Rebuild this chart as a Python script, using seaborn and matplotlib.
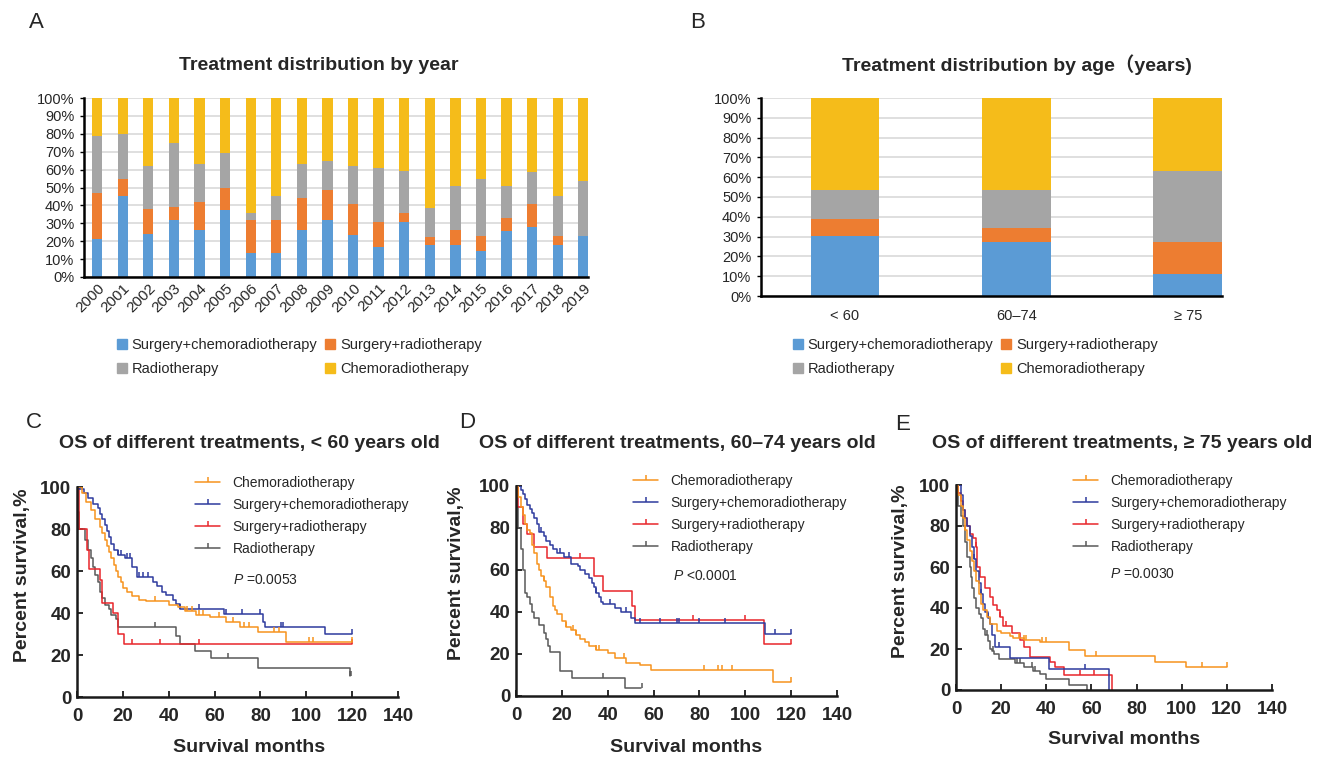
import numpy as np
import matplotlib
matplotlib.use("Agg")
import matplotlib.pyplot as plt
import seaborn as sns
from matplotlib.lines import Line2D

# ---------------- data: panel A (percent segments by year) ----------------
years = ["2000", "2001", "2002", "2003", "2004", "2005", "2006", "2007", "2008", "2009",
         "2010", "2011", "2012", "2013", "2014", "2015", "2016", "2017", "2018", "2019"]
a_scr = [21, 45, 24, 32, 26, 37.4, 13.5, 13.5, 26, 32, 23.4, 16.5, 30.7, 18, 18, 14.6, 25.6, 28, 18, 23]
a_sr = [26, 10, 14, 7, 16, 12.6, 18.5, 18.5, 18, 16.4, 17.6, 14, 5, 4.4, 8, 8.4, 7.4, 12.7, 5, 0]
a_rt = [32, 25, 24, 36, 21, 19, 4, 13.5, 19, 16.6, 21, 30.5, 23.3, 15.9, 25, 32, 18, 18, 22, 30.5]
a_crt = [21, 20, 38, 25, 37, 31, 64, 54.5, 37, 35, 38, 39, 41, 61.7, 49, 45, 49, 41.3, 55, 46.5]

# ---------------- data: panel B (percent segments by age) ----------------
ages = ["< 60", "60\u201374", "\u2265 75"]
b_scr = [30.1, 27.1, 11.3]
b_sr = [8.8, 7.1, 16.1]
b_rt = [14.5, 19.3, 35.6]
b_crt = [46.6, 46.5, 37.0]

treat_labels = ["Surgery+chemoradiotherapy", "Surgery+radiotherapy", "Radiotherapy", "Chemoradiotherapy"]

# ---------------- data: Kaplan-Meier curves (step times, survival %) ----------------
# Panel C (< 60)
c_crt_t = [0, 2, 4, 6, 8, 10, 11, 12, 13, 14, 15, 16, 17, 18, 19, 20, 22, 24, 27, 30, 40, 44, 47, 52, 58, 65, 71, 79, 91, 120]
c_crt_s = [100, 97, 93, 89, 85, 81, 78, 75, 72, 69, 66, 63, 60, 57, 55, 52, 50, 48, 46, 45.5, 43.6, 42.8, 41, 39, 38, 35.7, 33.3, 31, 26, 26]
c_crt_cens = [34, 48, 50, 53, 55, 62, 68, 73, 75, 86, 88, 101, 103, 120]
c_scr_t = [0, 1, 3, 5, 7, 9, 10, 11, 12, 13, 14, 15, 16, 18, 21, 24, 26, 33, 35, 37, 39, 42, 43, 45, 64, 81, 82, 108, 120]
c_scr_s = [100, 99, 97, 95, 92, 90, 87, 85, 82, 79, 76, 73, 70, 67.5, 66, 62, 57, 55, 53, 50, 48.4, 46, 44.4, 42, 39.4, 35.7, 33.3, 30.2, 30.2]
c_scr_cens = [18, 19, 22, 23, 27, 29, 31, 45, 53, 65, 72, 80, 89, 90, 120]
c_sr_t = [0, 1, 4.4, 5.3, 9.9, 10.8, 15.7, 18, 20.5, 120]
c_sr_s = [100, 80, 70, 60.8, 55.5, 45, 40, 30, 25.4, 25.4]
c_sr_cens = [24, 36, 53, 120]
c_rt_t = [0, 0.5, 1, 3.3, 5, 6, 7, 8, 9, 10, 11, 12, 14, 15, 17, 18, 43.3, 45, 51.3, 58.5, 79, 119]
c_rt_s = [100, 88, 80, 75, 70, 66, 62, 58, 55, 50, 47, 44, 42, 39, 37, 33.3, 29, 25.4, 22, 18.5, 14, 10]
c_rt_cens = [34, 66, 119, 119.5]

# Panel D (60-74)
d_crt_t = [0, 1, 2, 3, 4, 5, 6, 7, 8, 9, 10, 11, 12, 13, 15, 16, 17, 18, 20, 22, 24, 26, 28, 30, 32, 35, 40, 43, 48, 54, 59, 112, 120]
d_crt_s = [100, 95, 90, 86, 82, 79, 77.5, 72, 68, 63, 60, 57, 55, 52, 47, 43, 41, 39, 35.5, 33, 31.4, 29, 27, 25.9, 24, 21.9, 20.6, 17.9, 15.9, 14.8, 12.4, 6.5, 6.5]
d_crt_cens = [12, 22, 25, 26, 35, 36, 47, 82, 88, 90, 94, 120]
d_scr_t = [0, 2, 3, 4, 5, 6, 7, 8, 9, 10, 12, 13, 15, 16, 18, 21, 24, 27, 28, 30, 32, 33, 34, 35, 36, 37, 38, 43, 46, 50, 51.7, 108.7, 120]
d_scr_s = [100, 98, 96, 94, 91, 89, 87, 85, 82, 78, 76, 74, 72, 70, 68, 66, 63, 62, 60, 58, 56, 54, 52, 49, 47, 45, 44, 42, 40, 37, 34.6, 29.4, 29.4]
d_scr_cens = [11, 19, 23, 35, 41, 48, 54, 63, 70, 71, 80, 91, 113, 120]
d_sr_t = [0, 1, 3, 4.8, 7.7, 13.5, 34, 38, 50.6, 51.7, 108, 120]
d_sr_s = [100, 90, 82, 77, 71, 65.5, 57, 50, 43, 36, 25, 25]
d_sr_cens = [28, 77, 100, 120]
d_rt_t = [0, 0.5, 1, 2, 3, 4, 5, 6, 7, 8, 10, 12, 13, 14, 15, 19.3, 24.4, 47.4, 54.7]
d_rt_s = [100, 90, 80, 70, 60, 49, 47, 44, 40, 37, 34, 30, 27, 24, 21, 12, 8.7, 4, 4]
d_rt_cens = [38, 55]

# Panel E (>= 75)
e_crt_t = [0, 1, 2, 3, 4, 5, 6, 7, 8, 9, 10, 11, 12, 13.6, 15, 18, 20, 24, 25.4, 30, 37, 50, 57, 88, 102, 120]
e_crt_s = [100, 95, 90, 84, 78, 73, 68, 63, 58, 53, 47, 42, 39, 35.8, 32, 29, 27.6, 26.5, 25.2, 24.4, 23.3, 19.5, 16.7, 13.8, 11, 11]
e_crt_cens = [4, 28, 30, 31, 38, 40, 62, 109, 120]
e_scr_t = [0, 2, 3, 4, 5, 6, 7, 8, 9, 10, 11, 12, 13, 14, 15, 16, 17.3, 24, 41, 68]
e_scr_s = [100, 95, 88, 84, 80, 75, 70, 64, 58, 52, 47, 42, 38, 35, 32, 27, 21, 15.5, 10.3, 0]
e_scr_cens = [8, 11, 14, 19, 57]
e_sr_t = [0, 1, 2, 3, 4, 5, 6, 7.7, 9, 9.5, 10.6, 12.9, 15, 16.6, 18, 19.5, 21, 25, 28.4, 30, 33, 41.7, 44, 48, 69]
e_sr_s = [100, 96, 92, 88, 84, 80, 76, 74, 70, 60, 55, 50, 45.5, 41.5, 39, 35.8, 31, 27.6, 24.4, 21, 16.3, 13.8, 11.4, 7.3, 0]
e_sr_cens = [9, 19.5, 22, 55, 61]
e_rt_t = [0, 1, 2, 3, 4, 5, 6, 6.5, 7, 8, 9, 10, 11, 12, 13, 14, 15, 16, 17, 19, 26, 30, 34, 37, 40, 50, 58]
e_rt_s = [100, 90, 85, 80, 72, 65, 60, 55, 50, 45, 40, 37, 35, 30, 27, 24, 20, 19, 17.5, 15, 13, 11, 9.5, 8, 5.5, 2.3, 0]
e_rt_cens = [13.6, 16.6, 27, 28.4, 33.6, 35]

km_labels = ["Chemoradiotherapy", "Surgery+chemoradiotherapy", "Surgery+radiotherapy", "Radiotherapy"]
p_values = ["=0.0053", "<0.0001", "=0.0030"]
km_titles = ["OS of different treatments, < 60 years old",
             "OS of different treatments, 60\u201374 years old",
             "OS of different treatments, \u2265 75 years old"]

# ---------------- styling ----------------
sns.set_theme(style="white")
plt.rcParams["font.family"] = ["Liberation Sans", "DejaVu Sans"]
plt.rcParams["mathtext.fontset"] = "custom"
plt.rcParams["mathtext.it"] = "Liberation Sans:italic"
plt.rcParams["mathtext.rm"] = "Liberation Sans"

bar_colors = ["#5B9BD5", "#ED7D31", "#A5A5A5", "#F5BC1A"]
km_colors = ["#F7931E", "#2E3B9E", "#E8262B", "#595959"]

W, H = 1325, 757
fig = plt.figure(figsize=(W / 100, H / 100), dpi=100)


def px(x, y):
    return x / W, 1 - y / H


def add_ax(x0, y0, x1, y1):
    return fig.add_axes([x0 / W, 1 - y1 / H, (x1 - x0) / W, (y1 - y0) / H])


axA = add_ax(84, 98, 588, 277)
axB = add_ax(761, 98, 1222, 296)
axC = add_ax(77, 487, 398, 697)
axD = add_ax(516, 486, 837, 696)
axE = add_ax(956, 485, 1272, 690)


def stacked(ax, cats, segs, width, xlim):
    cum = np.cumsum(np.array(segs, dtype=float), axis=0)
    for i in range(len(segs) - 1, -1, -1):
        sns.barplot(x=cats, y=cum[i], order=cats, color=bar_colors[i], width=width,
                    saturation=1, errorbar=None, ax=ax, linewidth=0, edgecolor="none", zorder=3)
    ax.set_ylim(0, 100)
    ax.set_xlim(*xlim)
    ax.set_yticks(range(0, 101, 10))
    ax.set_yticklabels([f"{v}%" for v in range(0, 101, 10)])
    ax.set_xlabel("")
    ax.set_ylabel("")
    ax.yaxis.grid(True, color="#D9D9D9", linewidth=1.2)
    ax.set_axisbelow(True)
    for s in ["top", "right"]:
        ax.spines[s].set_visible(False)
    for s in ["left", "bottom"]:
        ax.spines[s].set_color("black")
        ax.spines[s].set_linewidth(1.8)
        ax.spines[s].set_zorder(5)
    ax.tick_params(axis="y", length=3, width=1, direction="out", color="black",
                   labelsize=10.5, pad=4, left=True)
    ax.tick_params(axis="x", length=0, labelsize=10.5)


stacked(axA, years, [a_scr, a_sr, a_rt, a_crt], 0.4, (-0.51, 19.18))
axA.tick_params(axis="x", pad=3, labelsize=11)
for lab in axA.get_xticklabels():
    lab.set_rotation(45)
    lab.set_ha("right")
    lab.set_va("top")
    lab.set_rotation_mode("anchor")

stacked(axB, ages, [b_scr, b_sr, b_rt, b_crt], 0.4, (-0.49, 2.2))
axB.tick_params(axis="x", pad=9)

# bar legends
leg_handles = [Line2D([], [], linestyle="none", marker="s", markersize=7,
                      markerfacecolor=c, markeredgecolor=c) for c in bar_colors]
order = [0, 2, 1, 3]
for x0 in (117, 793):
    fig.legend([leg_handles[i] for i in order], [treat_labels[i] for i in order],
               ncol=2, loc="upper left", bbox_to_anchor=px(x0, 338), frameon=False,
               fontsize=10.5, handlelength=0.7, handletextpad=0.3, columnspacing=0.55,
               labelspacing=0.7, borderpad=0, borderaxespad=0)

fig.text(*px(319, 65), "Treatment distribution by year", ha="center", va="center",
         fontsize=14, fontweight="bold")
fig.text(*px(1017, 65), "Treatment distribution by age\uff08years)", ha="center", va="center",
         fontsize=14, fontweight="bold", family=["Liberation Sans", "Noto Sans CJK SC"])

# KM panels
km_sets = [
    (axC, [(c_crt_t, c_crt_s, c_crt_cens), (c_scr_t, c_scr_s, c_scr_cens),
           (c_sr_t, c_sr_s, c_sr_cens), (c_rt_t, c_rt_s, c_rt_cens)]),
    (axD, [(d_crt_t, d_crt_s, d_crt_cens), (d_scr_t, d_scr_s, d_scr_cens),
           (d_sr_t, d_sr_s, d_sr_cens), (d_rt_t, d_rt_s, d_rt_cens)]),
    (axE, [(e_crt_t, e_crt_s, e_crt_cens), (e_scr_t, e_scr_s, e_scr_cens),
           (e_sr_t, e_sr_s, e_sr_cens), (e_rt_t, e_rt_s, e_rt_cens)]),
]
ax_px = [(77, 398, 487, 697), (516, 837, 486, 696), (956, 1272, 485, 690)]
legend_pos = [(195, 476), (633, 474), (1073, 474)]
p_pos = [(233, 580), (673, 576), (1110, 574)]
ylab_pos = [(22, 575), (457, 573), (900, 571)]
xlab_pos = [(249, 747), (686, 747), (1124, 740)]
title_pos = [(249, 443), (677, 443), (1122, 443)]

for k, (ax, curves) in enumerate(km_sets):
    # draw in reverse so orange sits on top like the reference
    for j in [3, 2, 1, 0]:
        t, s, cens = curves[j]
        t = np.array(t, float)
        s = np.array(s, float)
        sns.lineplot(x=t, y=s, drawstyle="steps-post", color=km_colors[j], linewidth=1.1,
                     estimator=None, sort=False, ax=ax)
        cens = np.array(cens, float)
        idx = np.searchsorted(t, cens, side="right") - 1
        ax.plot(cens, s[idx], linestyle="none", marker=2, markersize=3.5,
                markeredgewidth=1.1, color=km_colors[j])
    ax.set_xlim(0, 140)
    ax.set_ylim(0, 100)
    ax.set_xticks(range(0, 141, 20))
    ax.set_yticks(range(0, 101, 20))
    for s_ in ["top", "right"]:
        ax.spines[s_].set_visible(False)
    for s_ in ["left", "bottom"]:
        ax.spines[s_].set_color("#1a1a1a")
        ax.spines[s_].set_linewidth(1.8)
    ax.tick_params(axis="both", direction="in", length=4, width=1.3, color="#1a1a1a",
                   labelsize=13.5, left=True, bottom=True)
    ax.tick_params(axis="x", pad=8)
    ax.tick_params(axis="y", pad=4)
    for lab in ax.get_xticklabels() + ax.get_yticklabels():
        lab.set_fontweight("bold")
    x0, x1, y0, y1 = ax_px[k]
    wpx, hpx = x1 - x0, y1 - y0
    ax.set_ylabel("Percent survival,%", fontsize=14, fontweight="bold", va="center")
    ax.yaxis.set_label_coords(-(x0 - ylab_pos[k][0]) / wpx, (y1 - ylab_pos[k][1]) / hpx)
    ax.set_xlabel("Survival months", fontsize=14, fontweight="bold", va="center")
    ax.xaxis.set_label_coords((xlab_pos[k][0] - x0) / wpx, (y1 - xlab_pos[k][1]) / hpx)

    handles = [Line2D([], [], color=c, linewidth=1.1, marker=2, markersize=3.5,
                      markeredgewidth=1.1) for c in km_colors]
    ax.legend(handles, km_labels, loc="upper left", bbox_to_anchor=px(*legend_pos[k]),
              bbox_transform=fig.transFigure, frameon=False, fontsize=10,
              handlelength=1.8, handletextpad=0.9, labelspacing=0.58,
              borderpad=0, borderaxespad=0, numpoints=1)
    fig.text(*px(*p_pos[k]), r"$\it{P}$ " + p_values[k], ha="left", va="center", fontsize=10)
    fig.text(*px(*title_pos[k]), km_titles[k], ha="center", va="center",
             fontsize=14, fontweight="bold")

# panel letters
for letter, (x, y) in zip("ABCDE", [(36, 22), (698, 22), (34, 423), (467, 423), (903, 425)]):
    fig.text(*px(x, y), letter, ha="center", va="center", fontsize=16, fontweight="light")

fig.savefig("out.png", dpi=100)
